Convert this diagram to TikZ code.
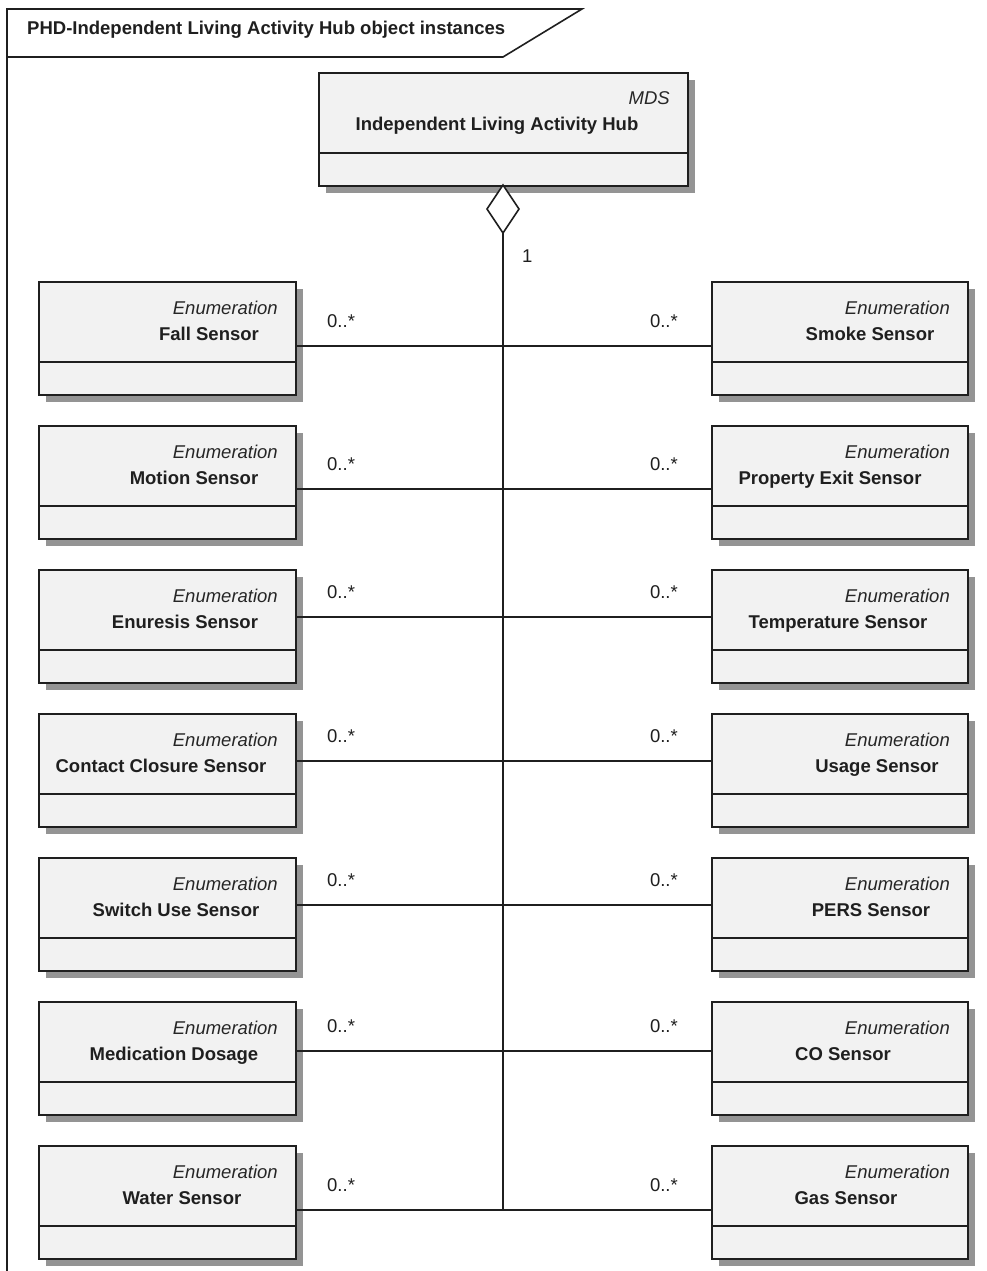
\documentclass[tikz,border=0pt]{standalone}
\usepackage{fontspec}
\setmainfont{Liberation Sans}
\begin{document}
\begin{tikzpicture}[x=1pt,y=-1pt,
  line/.style={draw=black!88, line width=1.6pt},
  boxfill/.style={draw=black!88, line width=1.6pt, fill=black!5},
  shadowbox/.style={fill=black!42, draw=none},
  stereo/.style={font=\fontsize{18.5}{22}\selectfont\itshape, text=black!85, inner sep=0pt, anchor=base east},
  cname/.style={font=\fontsize{18.5}{22}\selectfont\bfseries, text=black!88, inner sep=0pt, anchor=base},
  mult/.style={font=\fontsize{18.5}{22}\selectfont, text=black!88, inner sep=0pt},
  every node/.style={inner sep=0pt}
]
\useasboundingbox (0,0) rectangle (986,1271);
\fill[white] (0,0) rectangle (986,1271);

% frame and title tab
\coordinate (ftop) at (7,9);
\coordinate (fbot) at (7,1271);
\coordinate (tabtr) at (582,9);
\coordinate (tabbr) at (503,57);
\coordinate (tabbl) at (7,57);
\draw[line] (fbot) -- (ftop) -- (tabtr) -- (tabbr) -- (tabbl);
\node[font=\fontsize{18.5}{22}\selectfont\bfseries, text=black!88, anchor=base west] (title) at (27,35) {PHD-Independent Living Activity Hub object instances};

% class box macro: #1 name, #2 x, #3 y, #4 width, #5 stereotype, #6 title, #7 title centre x
\newcommand\umlbox[7]{%
  \fill[shadowbox] (#2+8,#3+8) rectangle (#2+#4+8,#3+113+8);
  \node[boxfill, anchor=north west, minimum width=#4pt, minimum height=113pt] (#1) at (#2,#3) {};
  \draw[line] (#1.west |- 0,#3+81) -- (#1.east |- 0,#3+81);
  \node[stereo] (#1s) at (#2+#4-17,#3+33) {#5};
  \node[cname] (#1n) at (#7,#3+59) {#6};
}

% hub
\umlbox{hub}{318}{72}{369}{MDS}{Independent Living Activity Hub}{497}

% left column
\umlbox{fall}{38}{281}{257}{Enumeration}{Fall Sensor}{209}
\umlbox{motion}{38}{425}{257}{Enumeration}{Motion Sensor}{194}
\umlbox{enuresis}{38}{569}{257}{Enumeration}{Enuresis Sensor}{185}
\umlbox{contact}{38}{713}{257}{Enumeration}{Contact Closure Sensor}{161}
\umlbox{switch}{38}{857}{257}{Enumeration}{Switch Use Sensor}{176}
\umlbox{medic}{38}{1001}{257}{Enumeration}{Medication Dosage}{174}
\umlbox{water}{38}{1145}{257}{Enumeration}{Water Sensor}{182}

% right column
\umlbox{smoke}{711}{281}{256}{Enumeration}{Smoke Sensor}{870}
\umlbox{exit}{711}{425}{256}{Enumeration}{Property Exit Sensor}{830}
\umlbox{temp}{711}{569}{256}{Enumeration}{Temperature Sensor}{838}
\umlbox{usage}{711}{713}{256}{Enumeration}{Usage Sensor}{877}
\umlbox{pers}{711}{857}{256}{Enumeration}{PERS Sensor}{871}
\umlbox{co}{711}{1001}{256}{Enumeration}{CO Sensor}{843}
\umlbox{gas}{711}{1145}{256}{Enumeration}{Gas Sensor}{846}

% junctions on the spine
\coordinate (j1) at (503,346);
\coordinate (j2) at (503,489);
\coordinate (j3) at (503,617);
\coordinate (j4) at (503,761);
\coordinate (j5) at (503,905);
\coordinate (j6) at (503,1051);
\coordinate (j7) at (503,1210);

% aggregation diamond
\coordinate (dtop) at (503,185);
\coordinate (dright) at (519,209);
\coordinate (dbot) at (503,233);
\coordinate (dleft) at (487,209);
\draw[line, fill=white, line join=miter] (dtop) -- (dright) -- (dbot) -- (dleft) -- cycle;
\draw[line] (dbot) -- (j7);
\node[mult, anchor=base west] (one) at (522,262) {1};

% horizontal connectors
\foreach \l/\r/\j in {fall/smoke/j1, motion/exit/j2, enuresis/temp/j3, contact/usage/j4, switch/pers/j5, medic/co/j6, water/gas/j7}{
  \draw[line] (\l.east |- \j) -- (\r.west |- \j);
}

% multiplicities
\foreach \j/\n in {j1/a, j2/b, j3/c, j4/d, j5/e, j6/f, j7/g}{
  \node[mult, anchor=base west] (ml\n) at ([shift={(-176,-19)}]\j) {0..*};
  \node[mult, anchor=base east] (mr\n) at ([shift={(175,-19)}]\j) {0..*};
}
\end{tikzpicture}
\end{document}
